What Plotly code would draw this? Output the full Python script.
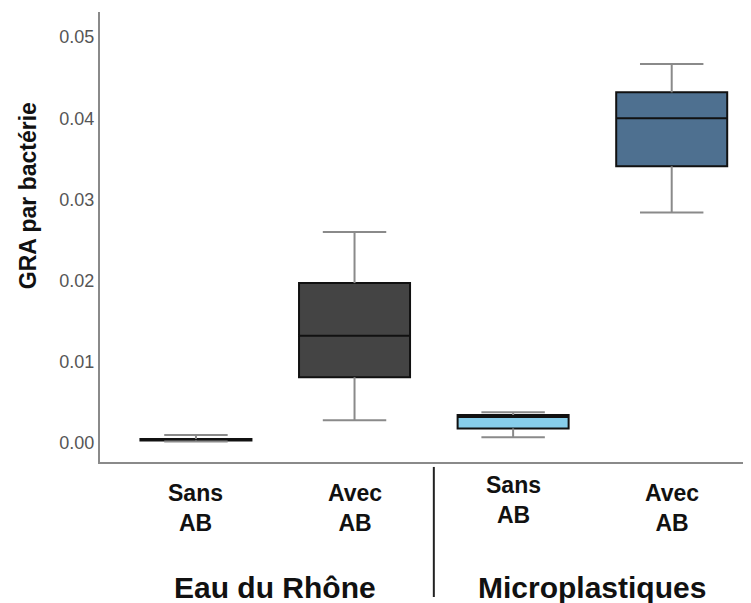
import plotly.graph_objects as go

# ---- data ----
positions = [0, 1, 2, 3]
tick_labels = ["Sans<br>AB", "Avec<br>AB", "Sans<br>AB", "Avec<br>AB"]
groups = ["Eau du Rhône", "Microplastiques"]
q1 = [0.0003, 0.0081, 0.0018, 0.0341]
median = [0.0004, 0.0132, 0.0032, 0.0400]
q3 = [0.0005, 0.0197, 0.00345, 0.0432]
lower_whisker = [0.0002, 0.0028, 0.0007, 0.0284]
upper_whisker = [0.0010, 0.0260, 0.0038, 0.0467]
fill_colors = ["#111111", "#444444", "#87CEEB", "#4E7090"]
y_ticks = [0.00, 0.01, 0.02, 0.03, 0.04, 0.05]

FONT = "Liberation Sans, Arial, sans-serif"
cap = 0.2

fig = go.Figure()

# whiskers with caps
for i, p in enumerate(positions):
    xs = [p, p, None, p, p, None, p - cap, p + cap, None, p - cap, p + cap]
    ys = [q3[i], upper_whisker[i], None, lower_whisker[i], q1[i], None,
          upper_whisker[i], upper_whisker[i], None, lower_whisker[i], lower_whisker[i]]
    fig.add_trace(go.Scatter(x=xs, y=ys, mode="lines",
                             line=dict(color="#8a8a8a", width=2),
                             hoverinfo="skip", showlegend=False))

# boxes
for i, p in enumerate(positions):
    fig.add_trace(go.Box(x=[p], q1=[q1[i]], median=[median[i]], q3=[q3[i]],
                         lowerfence=[q1[i]], upperfence=[q3[i]],
                         width=0.7, fillcolor=fill_colors[i],
                         line=dict(color="#111111", width=2),
                         boxpoints=False, showlegend=False))

annotations = []
label_y = [-0.102, -0.102, -0.085, -0.102]
for i, p in enumerate(positions):
    annotations.append(dict(x=p, y=label_y[i], xref="x", yref="paper",
                            text="<b>" + tick_labels[i] + "</b>", showarrow=False,
                            font=dict(family=FONT, size=23, color="#111111"),
                            xanchor="center", yanchor="middle"))
for g, gx in zip(groups, [0.5, 2.5]):
    annotations.append(dict(x=gx, y=-0.278, xref="x", yref="paper",
                            text="<b>" + g + "</b>", showarrow=False,
                            font=dict(family=FONT, size=30, color="#111111"),
                            xanchor="center", yanchor="middle"))
annotations.append(dict(x=-0.1106, y=0.593, xref="paper", yref="paper",
                        text="<b>GRA par bactérie</b>", showarrow=False, textangle=-90,
                        font=dict(family=FONT, size=23, color="#111111"),
                        xanchor="center", yanchor="middle"))

fig.update_layout(
    width=743, height=595,
    margin=dict(l=92, r=0, t=4, b=141),
    paper_bgcolor="white", plot_bgcolor="white",
    annotations=annotations,
    shapes=[dict(type="line", xref="x", yref="paper", x0=1.5, x1=1.5,
                 y0=-0.011, y1=-0.30, line=dict(color="#222222", width=2))],
    xaxis=dict(range=[-0.605, 3.5], showticklabels=False, showgrid=False,
               zeroline=False, showline=True, linecolor="#8a8a8a", linewidth=2,
               ticks=""),
    yaxis=dict(range=[-0.00234, 0.0531], tickvals=y_ticks, tickformat=".2f",
               showgrid=False, zeroline=False, showline=True, linecolor="#8a8a8a",
               linewidth=2, ticks="", ticklen=0,
               tickfont=dict(family=FONT, size=18, color="#555555")),
)

fig.write_html("out.html")
